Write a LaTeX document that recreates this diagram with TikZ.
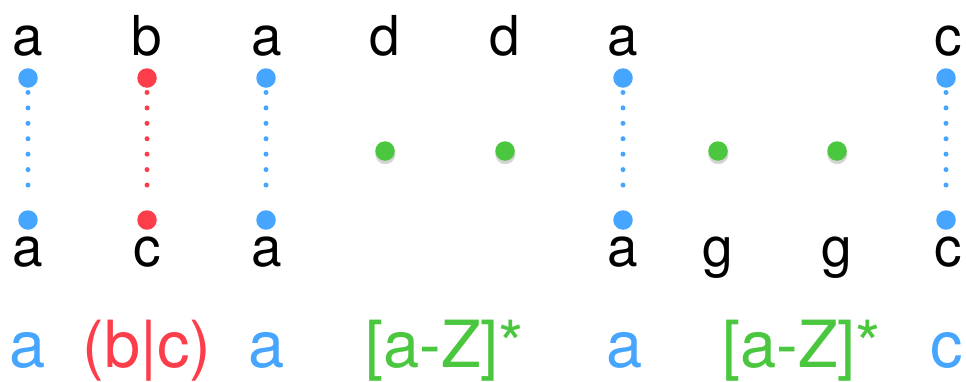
\documentclass[tikz,border=0pt]{standalone}
\usepackage{fontspec}
\setmainfont{TeX Gyre Heros}
\usetikzlibrary{positioning, shadows}
\definecolor{matchblue}{RGB}{69,165,255}
\definecolor{altred}{RGB}{252,61,74}
\definecolor{anygreen}{RGB}{74,199,62}

\begin{document}
\begin{tikzpicture}[
        x=1pt, y=-1pt,
        letter/.style={anchor=base, inner sep=0pt, font=\fontsize{55}{60}\selectfont},
        regex/.style={anchor=base, inner sep=0pt, font=\fontsize{65}{70}\selectfont},
        endpt/.style={circle, inner sep=0pt, minimum size=19.5pt, fill=#1},
        endpt/.default=matchblue,
        freedot/.style={circle, inner sep=0pt, minimum size=19.5pt, fill=anygreen, circular drop shadow={shadow xshift=0pt, shadow yshift=-2.5pt, opacity=0.35}},
        matchline/.style={draw=#1, line width=5pt, line cap=round, dash pattern=on 0pt off 15.43pt, shorten <=4.5pt, shorten >=10.5pt},
        matchline/.default=matchblue,
    ]
        \useasboundingbox (0,0) rectangle (966,381);

        % upper string
        \node[letter] (U1) at (28,55) {a};
        \node[letter] (U2) at (147,55) {b};
        \node[letter] (U3) at (267,55) {a};
        \node[letter] (U4) at (385,55) {d};
        \node[letter] (U5) at (505,55) {d};
        \node[letter] (U6) at (623,55) {a};
        \node[letter] (U7) at (948,55) {c};

        % lower string
        \node[letter] (L1) at (28,266) {a};
        \node[letter] (L2) at (147,266) {c};
        \node[letter] (L3) at (267,266) {a};
        \node[letter] (L4) at (623,266) {a};
        \node[letter] (L5) at (718,266) {g};
        \node[letter] (L6) at (837,266) {g};
        \node[letter] (L7) at (948,266) {c};

        % matched pairs
        \node[endpt] (T1) at (28,78) {};
        \node[endpt] (B1) at (28,220) {};
        \node[endpt=altred] (T2) at (147,78) {};
        \node[endpt=altred] (B2) at (147,220) {};
        \node[endpt] (T3) at (266,78) {};
        \node[endpt] (B3) at (266,220) {};
        \node[endpt] (T4) at (623,78) {};
        \node[endpt] (B4) at (623,220) {};
        \node[endpt] (T5) at (946,78) {};
        \node[endpt] (B5) at (946,220) {};
        \draw[matchline] (T1) -- (B1);
        \draw[matchline=altred] (T2) -- (B2);
        \draw[matchline] (T3) -- (B3);
        \draw[matchline] (T4) -- (B4);
        \draw[matchline] (T5) -- (B5);

        % wildcard positions
        \node[freedot] (W1) at (385,151) {};
        \node[freedot] (W2) at (505,151) {};
        \node[freedot] (W3) at (718,151) {};
        \node[freedot] (W4) at (837,151) {};

        % pattern
        \node[regex, text=matchblue] (R1) at (28,367) {a};
        \node[regex, text=altred] (R2) at (147,367) {(b|c)};
        \node[regex, text=matchblue] (R3) at (267,367) {a};
        \node[regex, text=anygreen, anchor=base west] (R4) at (365,367) {[a-Z]*};
        \node[regex, text=matchblue] (R5) at (625,367) {a};
        \node[regex, text=anygreen, anchor=base west] (R6) at (722,367) {[a-Z]*};
        \node[regex, text=matchblue] (R7) at (947,367) {c};
    \end{tikzpicture}
\end{document}
